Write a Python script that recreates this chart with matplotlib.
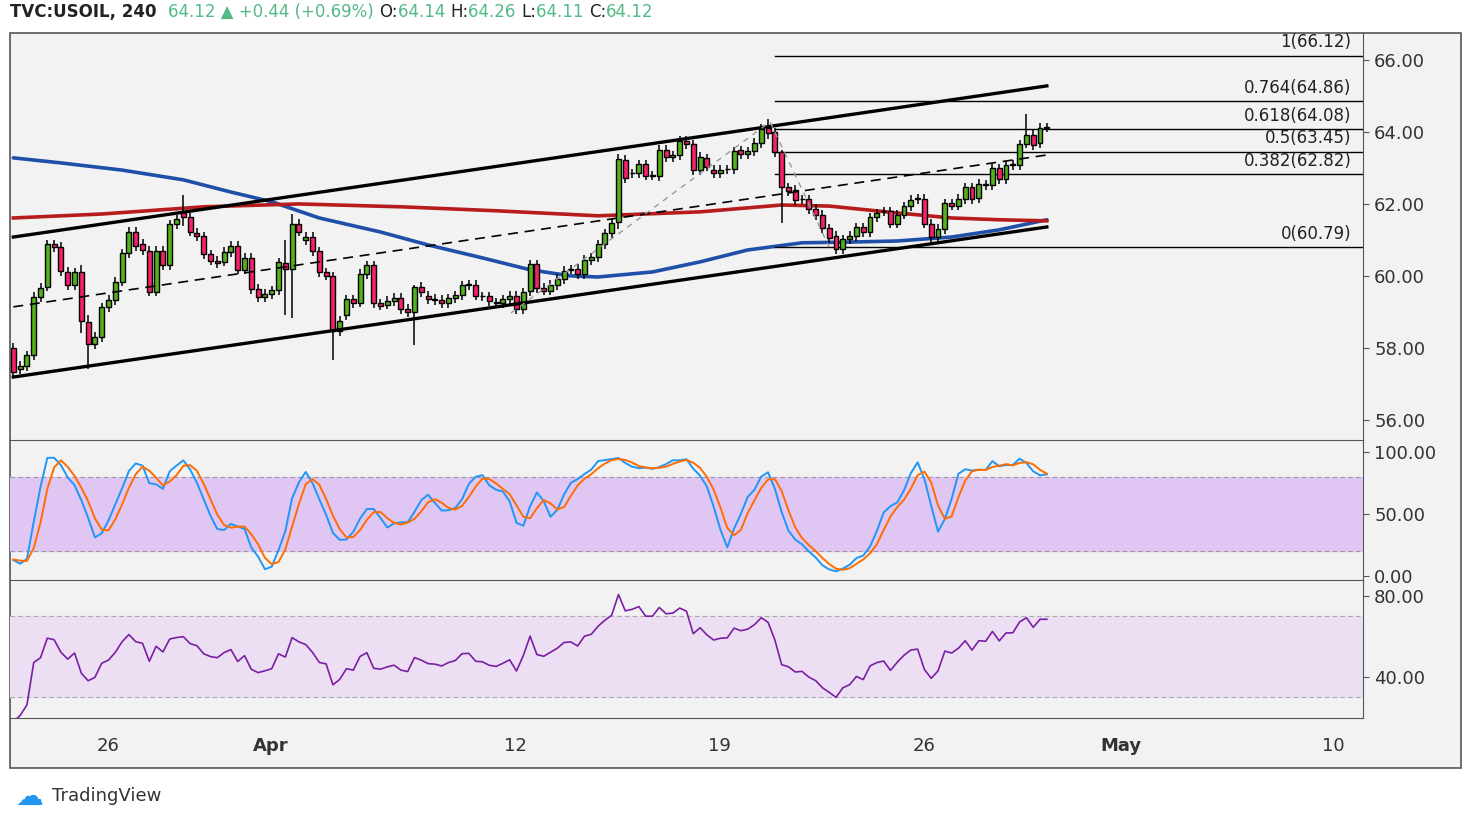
import numpy as np
import pandas as pd
import matplotlib
matplotlib.use("Agg")
from matplotlib import pyplot as plt
from matplotlib.patches import Rectangle

# 4h candles (open, close)
opens = [58.0, 57.4, 57.5, 57.8, 59.4, 59.7, 60.88, 60.8, 60.12, 59.74,
         60.1, 58.73, 58.11, 58.3, 59.13, 59.33, 59.84, 60.63, 61.23, 60.9,
         60.7, 59.56, 60.7, 60.3, 61.43, 61.77, 61.63, 61.2, 61.1, 60.6,
         60.41, 60.4, 60.66, 60.84, 60.17, 60.5, 59.64, 59.41, 59.5, 59.6,
         60.35, 60.2, 61.45, 61.0, 61.09, 60.68, 60.1, 60.01, 58.46, 58.9,
         59.35, 59.26, 60.05, 60.29, 59.24, 59.2, 59.3, 59.39, 59.08, 58.99,
         59.69, 59.45, 59.36, 59.33, 59.24, 59.38, 59.46, 59.75, 59.75, 59.43,
         59.43, 59.26, 59.24, 59.35, 59.45, 59.08, 59.58, 60.32, 59.66, 59.59,
         59.75, 59.91, 60.17, 60.19, 60.05, 60.44, 60.52, 60.88, 61.18, 61.51,
         63.22, 62.85, 62.85, 63.1, 62.79, 62.78, 63.5, 63.3, 63.35, 63.75,
         63.66, 62.93, 63.27, 62.94, 62.85, 62.96, 62.96, 63.49, 63.38, 63.46,
         63.69, 64.1, 63.99, 63.44, 62.46, 62.39, 62.13, 62.13, 61.86, 61.69,
         61.32, 61.11, 60.75, 61.02, 61.11, 61.35, 61.21, 61.63, 61.79, 61.79,
         61.45, 61.7, 61.93, 62.14, 62.14, 61.45, 61.07, 61.3, 62.02, 61.95,
         62.14, 62.46, 62.16, 62.53, 62.53, 62.99, 62.69, 63.08, 63.08, 63.66,
         63.92, 63.68, 64.12]
closes = [57.33, 57.5, 57.79, 59.41, 59.66, 60.88, 60.8, 60.14, 59.74, 60.1,
          58.75, 58.11, 58.3, 59.13, 59.33, 59.84, 60.63, 61.23, 60.82, 60.72,
          59.56, 60.7, 60.3, 61.43, 61.57, 61.65, 61.23, 61.1, 60.6, 60.42,
          60.35, 60.66, 60.84, 60.17, 60.5, 59.64, 59.41, 59.5, 59.6, 60.38,
          60.2, 61.45, 61.23, 61.09, 60.68, 60.1, 60.01, 58.48, 58.76, 59.35,
          59.24, 60.05, 60.29, 59.24, 59.17, 59.3, 59.39, 59.08, 58.99, 59.69,
          59.55, 59.36, 59.33, 59.24, 59.38, 59.46, 59.74, 59.75, 59.45, 59.43,
          59.3, 59.26, 59.35, 59.45, 59.08, 59.54, 60.32, 59.66, 59.59, 59.75,
          59.91, 60.15, 60.17, 60.05, 60.44, 60.52, 60.88, 61.18, 61.46, 63.24,
          62.71, 62.85, 63.1, 62.79, 62.79, 63.5, 63.3, 63.35, 63.75, 63.66,
          62.93, 63.3, 63.04, 62.85, 62.94, 62.96, 63.46, 63.38, 63.46, 63.69,
          64.08, 63.96, 63.44, 62.46, 62.36, 62.11, 62.13, 61.86, 61.69, 61.32,
          61.05, 60.75, 61.02, 61.11, 61.35, 61.21, 61.63, 61.74, 61.79, 61.45,
          61.7, 61.93, 62.11, 62.14, 61.45, 61.07, 61.3, 62.02, 61.95, 62.14,
          62.46, 62.14, 62.55, 62.53, 62.99, 62.69, 63.07, 63.08, 63.66, 63.92,
          63.64, 64.12, 64.12]
# long wicks (bar index: (high, low)); others get a short default wick
wick_over = {10: (60.3, 58.4), 11: (58.9, 57.4), 25: (62.25, 61.4), 40: (61.0, 58.92),
             41: (61.72, 58.84), 47: (60.1, 57.67), 59: (59.75, 58.07), 89: (63.4, 61.3),
             111: (64.35, 63.8), 113: (63.5, 61.46), 149: (64.5, 63.55)}
# price history just before the visible window (indicator warm-up only)
warmup = [60.9, 60.6, 60.8, 60.3, 60.0, 60.2, 59.7, 59.5, 59.8, 59.2,
          59.0, 58.7, 58.9, 58.4, 58.2, 58.5, 58.1, 57.9, 58.2, 58.0]

ma_blue_idx = [0, 7, 16, 25, 32, 38, 45, 54, 61, 69, 76, 82, 86, 94, 101, 108, 116, 123, 130, 138, 145, 152]
ma_blue = [63.28, 63.14, 62.94, 62.67, 62.33, 62.06, 61.61, 61.22, 60.86, 60.5, 60.17,
           60.0, 59.97, 60.11, 60.39, 60.72, 60.92, 60.94, 60.97, 61.08, 61.28, 61.56]
ma_red_idx = [0, 13, 28, 42, 57, 71, 86, 101, 113, 120, 130, 138, 145, 152]
ma_red = [61.61, 61.72, 61.92, 62.0, 61.92, 61.81, 61.67, 61.78, 61.97, 61.94, 61.75, 61.61, 61.56, 61.53]

fib_levels = [1, 0.764, 0.618, 0.5, 0.382, 0]
fib_prices = [66.12, 64.86, 64.08, 63.45, 62.82, 60.79]

tick_pos = [13.9, 37.9, 73.9, 103.9, 134.0, 162.9, 194.1]
tick_lab = ["26", "Apr", "12", "19", "26", "May", "10"]

n = len(closes)
idx = np.arange(n)
o = np.array(opens); c = np.array(closes)
hi = np.maximum(o, c) + 0.13
lo = np.minimum(o, c) - 0.13
for k, (h, l) in wick_over.items():
    hi[k], lo[k] = h, l

# indicators
allc = pd.Series(warmup + closes)
allh = pd.Series([x + 0.25 for x in warmup] + list(hi))
alll = pd.Series([x - 0.25 for x in warmup] + list(lo))
d = allc.diff()
up = d.clip(lower=0).ewm(alpha=1 / 14, adjust=False).mean()
dn = (-d.clip(upper=0)).ewm(alpha=1 / 14, adjust=False).mean()
rsi = (100 - 100 / (1 + up / dn)).values[len(warmup):]
hh = allh.rolling(14, min_periods=1).max()
ll = alll.rolling(14, min_periods=1).min()
raw = 100 * (allc - ll) / (hh - ll)
k_line = raw.rolling(3, min_periods=1).mean()
d_line = k_line.rolling(3, min_periods=1).mean()
k_line = k_line.values[len(warmup):]
d_line = d_line.values[len(warmup):]

W, H = 1471, 823
fig = plt.figure(figsize=(W / 100, H / 100), dpi=100)
fig.patch.set_facecolor("white")
bg = "#f2f2f2"

def axbox(top, bot):
    return [10 / W, 1 - bot / H, (1363 - 10) / W, (bot - top) / H]

ax = fig.add_axes(axbox(33, 440))
ax_s = fig.add_axes(axbox(440, 580), sharex=ax)
ax_r = fig.add_axes(axbox(580, 718), sharex=ax)
fig.patches.append(Rectangle((10 / W, 1 - 768 / H), (1461 - 10) / W, (768 - 33) / H,
                             transform=fig.transFigure, facecolor=bg, edgecolor="#555555",
                             lw=1.2, zorder=-10))
for a in (ax, ax_s, ax_r):
    a.set_facecolor("none")
    for s in a.spines.values():
        s.set_visible(False)
    a.spines["right"].set_visible(True)
    a.spines["right"].set_color("#555555")
    a.spines["bottom"].set_visible(True)
    a.spines["bottom"].set_color("#555555")
    a.yaxis.tick_right()
    a.tick_params(axis="y", length=4, color="#555555", labelsize=13, labelcolor="#333333", pad=4)
    a.tick_params(axis="x", length=0)
    a.set_xlim(-0.49, 198.5)

# candles
green, red = "#53b21b", "#f7216b"
for i in idx:
    col = green if c[i] >= o[i] else red
    ax.vlines(i, lo[i], hi[i], color="black", lw=1.1, zorder=3)
    b = min(o[i], c[i])
    hgt = max(abs(c[i] - o[i]), 0.02)
    ax.add_patch(Rectangle((i - 0.36, b), 0.72, hgt, facecolor=col, edgecolor="black",
                           lw=1.0, zorder=4))

ax.plot(ma_blue_idx, ma_blue, color="#1f4fa8", lw=2.6, zorder=2, solid_capstyle="round")
ax.plot(ma_red_idx, ma_red, color="#b71c1c", lw=2.6, zorder=2)

# channel
ax.plot([0, 152], [61.08, 65.28], color="black", lw=2.4, zorder=5)
ax.plot([0, 152], [57.19, 61.36], color="black", lw=2.4, zorder=5)
ax.plot([0, 152], [59.14, 63.36], color="black", lw=1.2, ls=(0, (6, 4)), zorder=5)
# fib retracement
ax.plot([73.2, 111.3, 120.0], [58.97, 64.28, 60.8], color="#999999", lw=1, ls=(0, (4, 4)), zorder=5)
for lvl, p in zip(fib_levels, fib_prices):
    ax.plot([112, 198.5], [p, p], color="black", lw=1, zorder=2)
    ax.text(196.8, p + 0.12, f"{lvl:g}({p:.2f})", ha="right", va="bottom", fontsize=12, color="#222222")

ax.set_ylim(55.44, 66.75)
ax.set_yticks([56, 58, 60, 62, 64, 66])
ax.set_yticklabels([f"{v:.2f}" for v in [56, 58, 60, 62, 64, 66]])
ax.tick_params(axis="x", labelbottom=False)

# stochastic
ax_s.axhspan(20, 80, color="#e0c6f3", zorder=0)
for v in (20, 80):
    ax_s.axhline(v, color="#999999", lw=0.8, ls=(0, (4, 3)))
ax_s.plot(idx, k_line, color="#2196f3", lw=1.4)
ax_s.plot(idx, d_line, color="#ff6d00", lw=1.4)
ax_s.set_ylim(-3.2, 109.7)
ax_s.set_yticks([0, 50, 100])
ax_s.set_yticklabels(["0.00", "50.00", "100.00"])
ax_s.tick_params(axis="x", labelbottom=False)

# RSI
ax_r.axhspan(30, 70, color="#ecdff3", zorder=0)
for v in (30, 70):
    ax_r.axhline(v, color="#aaaaaa", lw=0.8, ls=(0, (4, 3)))
ax_r.plot(idx, rsi, color="#7b1fa2", lw=1.2)
ax_r.set_ylim(19.75, 87.9)
ax_r.set_yticks([40, 80])
ax_r.set_yticklabels(["40.00", "80.00"])
ax_r.set_xticks(tick_pos)
ax_r.set_xticklabels(tick_lab)
ax_r.tick_params(axis="x", labelsize=13, labelcolor="#333333", pad=14)
for t in ax_r.get_xticklabels():
    if t.get_text() in ("Apr", "May"):
        t.set_fontweight("bold")

# header
hdr = [("TVC:USOIL, 240  ", "#222222", "bold"), ("64.12 \u25b2 +0.44 (+0.69%) ", "#53b987", "normal"),
       ("O:", "#222222", "normal"), ("64.14 ", "#53b987", "normal"), ("H:", "#222222", "normal"),
       ("64.26 ", "#53b987", "normal"), ("L:", "#222222", "normal"), ("64.11 ", "#53b987", "normal"),
       ("C:", "#222222", "normal"), ("64.12", "#53b987", "normal")]
x = 10
r = fig.canvas.get_renderer()
for s, col, wt in hdr:
    t = fig.text(x / W, 1 - 12 / H, s, fontsize=12, color=col, fontweight=wt, va="center", ha="left")
    x += t.get_window_extent(r).width
fig.text(52 / W, 1 - 796 / H, "TradingView", fontsize=13, color="#333333", va="center")
fig.text(29 / W, 1 - 797 / H, "\u2601", fontsize=20, color="#2196f3", va="center", ha="center")

fig.savefig("out.png", dpi=100, facecolor="white")
